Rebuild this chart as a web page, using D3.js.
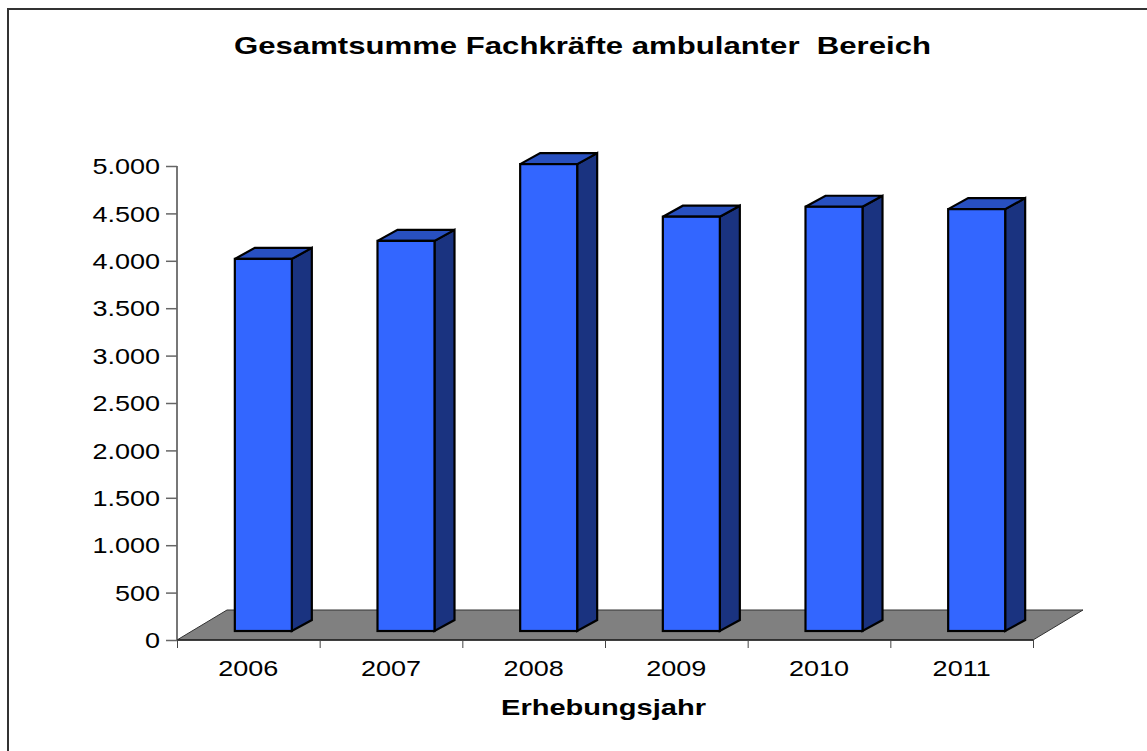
<!DOCTYPE html>
<html><head><meta charset="utf-8">
<script src="https://cdnjs.cloudflare.com/ajax/libs/d3/7.8.5/d3.min.js"></script>
<style>html,body{margin:0;padding:0;background:#fff;overflow:hidden}svg{display:block}text{font-family:"Liberation Sans",Arial,sans-serif;fill:#000}</style>
</head><body><svg id="c" width="1147" height="751"></svg>
<script>
const years = ["2006","2007","2008","2009","2010","2011"];
const values = [3925, 4115, 4925, 4370, 4475, 4450];
const yTicks = [0,500,1000,1500,2000,2500,3000,3500,4000,4500,5000];
const yTickLabels = ["0","500","1.000","1.500","2.000","2.500","3.000","3.500","4.000","4.500","5.000"];
const title = "Gesamtsumme Fachkräfte ambulanter  Bereich";
const xTitle = "Erhebungsjahr";

const svg = d3.select("#c");
const stretch = 1.2;
const widen = sel => sel.each(function(){
  this.setAttribute("lengthAdjust","spacingAndGlyphs");
  this.setAttribute("textLength", this.getComputedTextLength()*stretch);
});

svg.append("path").attr("d","M8,751V9H1147").attr("fill","none").attr("stroke","#333").attr("stroke-width",2);

const y = d3.scaleLinear().domain([0,5000]).range([640,166]);
const xEdge = d3.scaleLinear().domain([0,6]).range([177,1033]);
const xc = d3.scaleBand().domain(years).range([177,1033]);
const center = d => xc(d)+xc.bandwidth()/2;
const dx=50, dy=-30, bx=20, by=-11, baseUp=9;

// floor
svg.append("path").attr("d",`M177,640L${177+dx},${640+dy}L${1033+dx},${640+dy}L1033,640Z`)
  .attr("fill","#808080").attr("stroke","#333").attr("stroke-width",1);

// axes
const gy=svg.append("g").attr("transform","translate(177,0)")
  .call(d3.axisLeft(y).tickValues(yTicks).tickFormat((d,i)=>yTickLabels[i]).tickSize(11).tickPadding(6));
gy.selectAll("line").attr("stroke","#666").attr("stroke-width",1.5);
gy.select("path").attr("d","M0,166V640").attr("stroke","#777").attr("stroke-width",2);
gy.selectAll("text").attr("font-size",22.5).attr("dy","0.34em").call(widen);
const gx=svg.append("g").attr("transform","translate(0,640)")
  .call(d3.axisBottom(xEdge).ticks(6).tickSize(8).tickFormat(""));
gx.select("path").attr("d","M177,0H1033").attr("stroke","#222").attr("stroke-width",1.5);
gx.selectAll("line").attr("stroke","#444");
svg.selectAll(".xl").data(years).join("text").attr("class","xl").attr("x",center).attr("y",676)
  .attr("text-anchor","middle").attr("font-size",22.5).text(d=>d).call(widen);

// bars
const bw=57;
const g=svg.selectAll(".bar").data(years.map((d,i)=>({d,v:values[i]}))).join("g").attr("class","bar")
  .attr("stroke","#000").attr("stroke-width",2.2).attr("stroke-linejoin","miter");
const X=d=>center(d.d)+15-bw/2, T=d=>y(d.v)-baseUp, B=y(0)-baseUp;
g.append("path").attr("fill","#1a3380").attr("d",d=>`M${X(d)+bw},${T(d)}l${bx},${by}V${B+by}L${X(d)+bw},${B}Z`);
g.append("path").attr("fill","#2850c0").attr("d",d=>`M${X(d)},${T(d)}l${bx},${by}h${bw}l${-bx},${-by}Z`);
g.append("rect").attr("fill","#3366ff").attr("x",X).attr("y",T).attr("width",bw).attr("height",d=>B-T(d));

svg.append("text").attr("x",582.5).attr("y",54).attr("text-anchor","middle").attr("font-size",24).attr("font-weight","bold")
  .attr("textLength",697).attr("lengthAdjust","spacingAndGlyphs").style("white-space","pre").text(title);
svg.append("text").attr("x",603.5).attr("y",715).attr("text-anchor","middle").attr("font-size",22).attr("font-weight","bold")
  .attr("textLength",205).attr("lengthAdjust","spacingAndGlyphs").text(xTitle);
</script></body></html>
